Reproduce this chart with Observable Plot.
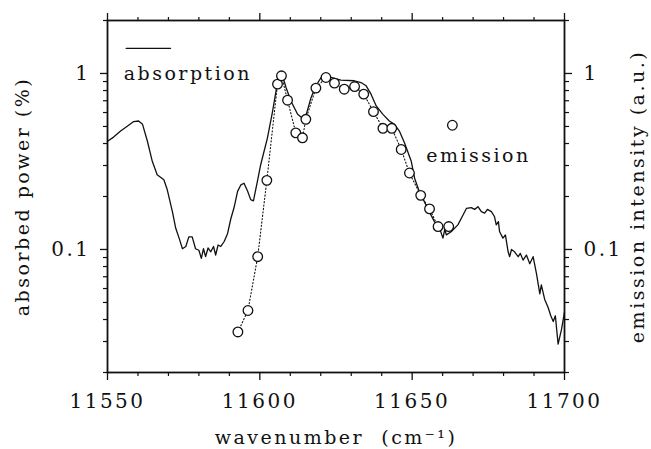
<!DOCTYPE html>
<html>
<head>
<meta charset="utf-8">
<script src="https://cdn.jsdelivr.net/npm/d3@7"></script>
<script src="https://cdn.jsdelivr.net/npm/@observablehq/plot@0.6"></script>
<style>
  html, body { margin: 0; padding: 0; background: #fff; }
</style>
</head>
<body>
<div id="chart"></div>
<script>
// Absorption spectrum (solid line): wavenumber (cm-1) and absorbed power (%)
const absWn = [
  11550.0, 11552.0, 11554.3, 11556.6, 11558.6, 11560.2, 11561.5, 11563.1, 11564.7, 11566.3,
  11568.5, 11569.6, 11571.3, 11572.4, 11573.5, 11574.6, 11575.7, 11576.7, 11577.8, 11578.9,
  11580.0, 11580.8, 11581.5, 11582.2, 11583.0, 11583.9, 11584.8, 11585.5, 11586.3, 11587.2,
  11588.3, 11589.4, 11590.5, 11591.5, 11592.7, 11593.8, 11594.8, 11596.0, 11597.0, 11597.9,
  11599.2, 11600.3, 11602.5, 11604.2, 11605.6, 11606.7, 11607.2, 11608.6, 11610.2, 11612.4,
  11613.8, 11615.1, 11616.8, 11618.4, 11620.1, 11621.7, 11623.4, 11626.6, 11631.0, 11633.2,
  11634.9, 11636.5, 11638.2, 11640.4, 11642.5, 11644.2, 11645.8, 11647.5, 11649.7, 11650.8,
  11652.3, 11654.0, 11655.6, 11657.3, 11659.0, 11660.1, 11660.7, 11661.2, 11662.8, 11665.0,
  11666.7, 11667.8, 11669.4, 11670.5, 11671.6, 11672.7, 11673.8, 11674.7, 11676.0, 11677.0,
  11677.6, 11678.3, 11678.7, 11679.8, 11680.6, 11681.5, 11682.0, 11682.6, 11683.6, 11684.8,
  11685.5, 11686.4, 11687.5, 11688.6, 11689.7, 11690.8, 11691.9, 11692.4, 11693.5, 11694.6,
  11695.5, 11696.3, 11697.0, 11697.9, 11699.0, 11700.0
];
const absVal = [
  0.412, 0.435, 0.471, 0.503, 0.533, 0.537, 0.514, 0.412, 0.317, 0.266,
  0.249, 0.219, 0.164, 0.132, 0.116, 0.101, 0.104, 0.118, 0.118, 0.101,
  0.099, 0.089, 0.101, 0.091, 0.102, 0.097, 0.104, 0.093, 0.106, 0.104,
  0.111, 0.123, 0.150, 0.172, 0.214, 0.233, 0.238, 0.214, 0.192, 0.189,
  0.244, 0.304, 0.431, 0.612, 0.851, 1.000, 1.003, 0.832, 0.698, 0.586,
  0.561, 0.573, 0.729, 0.851, 0.949, 0.983, 0.949, 0.917, 0.909, 0.888,
  0.851, 0.763, 0.654, 0.586, 0.537, 0.514, 0.471, 0.403, 0.317, 0.254,
  0.214, 0.187, 0.164, 0.144, 0.132, 0.116, 0.130, 0.121, 0.126, 0.138,
  0.157, 0.171, 0.173, 0.169, 0.175, 0.164, 0.161, 0.169, 0.164, 0.154,
  0.138, 0.144, 0.126, 0.116, 0.121, 0.097, 0.091, 0.100, 0.097, 0.091,
  0.095, 0.087, 0.093, 0.083, 0.091, 0.073, 0.056, 0.063, 0.052, 0.047,
  0.042, 0.039, 0.042, 0.029, 0.035, 0.044
];

// Emission intensity (circles joined by dotted line)
const emWn = [
  11592.8, 11596.1, 11599.3, 11602.3, 11605.8, 11607.1, 11609.1, 11611.8, 11614.0, 11615.1,
  11618.4, 11621.7, 11624.5, 11627.7, 11631.1, 11634.1, 11637.3, 11640.4, 11643.3, 11646.4,
  11649.1, 11652.8, 11655.7, 11658.5, 11662.0
];
const emVal = [
  0.034, 0.045, 0.091, 0.247, 0.870, 0.970, 0.705, 0.460, 0.431, 0.549,
  0.826, 0.949, 0.881, 0.814, 0.843, 0.763, 0.607, 0.488, 0.488, 0.370,
  0.272, 0.203, 0.170, 0.135, 0.135
];

// Ticks
const xMajor = [11550, 11600, 11650, 11700];
const xMinor = [11560, 11570, 11580, 11590, 11610, 11620, 11630, 11640, 11660, 11670, 11680, 11690];
const yMajor = [0.1, 1];
const yMinor = [0.02, 0.03, 0.04, 0.05, 0.06, 0.07, 0.08, 0.09,
                0.2, 0.3, 0.4, 0.5, 0.6, 0.7, 0.8, 0.9, 2];

// Text
const xTitle = "wavenumber  (cm⁻¹)";
const yLeftTitle = "absorbed power (%)";
const yRightTitle = "emission intensity (a.u.)";
const absLabel = "absorption";
const emLabel = "emission";

// Legend placement (in data units)
const absKey = [{x: 11556.1, y: 1.39}, {x: 11570.7, y: 1.39}];
const absKeyText = {x: 11555.3, y: 1.0};
const emKey = {x: 11663.2, y: 0.508};
const emKeyText = {x: 11654.6, y: 0.339};

const absorption = absWn.map((x, i) => ({x, y: absVal[i]}));
const emission = emWn.map((x, i) => ({x, y: emVal[i]}));

const ink = "#111";
const fmt = d => String(d);

const chart = Plot.plot({
  width: 651,
  height: 449,
  marginLeft: 107,
  marginRight: 87,
  marginTop: 20,
  marginBottom: 77,
  style: {
    fontFamily: "'DejaVu Serif', serif",
    fontSize: "19px",
    letterSpacing: "2.5px",
    background: "#fff",
    color: ink
  },
  x: {domain: [11550, 11700]},
  y: {type: "log", domain: [0.02, 2]},
  marks: [
    // axes
    Plot.axisX({anchor: "bottom", ticks: xMajor, tickSize: 8, tickPadding: 13, tickFormat: fmt, fontSize: 20, label: null, stroke: ink, strokeWidth: 1.3}),
    Plot.axisX({anchor: "bottom", ticks: xMinor, tickSize: 4, fill: "none", label: null, stroke: ink, strokeWidth: 1.2}),
    Plot.axisX({anchor: "top", ticks: xMajor, tickSize: 8, fill: "none", label: null, stroke: ink, strokeWidth: 1.3}),
    Plot.axisX({anchor: "top", ticks: xMinor, tickSize: 4, fill: "none", label: null, stroke: ink, strokeWidth: 1.2}),
    Plot.axisY({anchor: "left", ticks: yMajor, tickSize: 7, tickPadding: 10, tickFormat: fmt, fontSize: 20, label: null, stroke: ink, strokeWidth: 1.3}),
    Plot.axisY({anchor: "left", ticks: yMinor, tickSize: 4, fill: "none", label: null, stroke: ink, strokeWidth: 1.2}),
    Plot.axisY({anchor: "right", ticks: yMajor, tickSize: 7, tickPadding: 12, tickFormat: fmt, fontSize: 20, label: null, stroke: ink, strokeWidth: 1.3}),
    Plot.axisY({anchor: "right", ticks: yMinor, tickSize: 4, fill: "none", label: null, stroke: ink, strokeWidth: 1.2}),
    Plot.frame({stroke: ink, strokeWidth: 1.8}),

    // data
    Plot.line(absorption, {x: "x", y: "y", stroke: ink, strokeWidth: 1.3}),
    Plot.line(emission, {x: "x", y: "y", stroke: ink, strokeWidth: 1.1, strokeDasharray: "1.2,2.2"}),
    Plot.dot(emission, {x: "x", y: "y", r: 4.8, stroke: ink, strokeWidth: 1.3, fill: "#fff"}),

    // legend
    Plot.line(absKey, {x: "x", y: "y", stroke: ink, strokeWidth: 1.2}),
    Plot.text([absKeyText], {x: "x", y: "y", text: () => absLabel, textAnchor: "start", lineAnchor: "middle", fill: ink, fontSize: 19}),
    Plot.dot([emKey], {x: "x", y: "y", r: 4.8, stroke: ink, strokeWidth: 1.3, fill: "#fff"}),
    Plot.text([emKeyText], {x: "x", y: "y", text: () => emLabel, textAnchor: "start", lineAnchor: "middle", fill: ink, fontSize: 19}),

    // axis titles
    Plot.text([xTitle], {frameAnchor: "bottom", dy: 65, text: d => d, textAnchor: "middle", lineAnchor: "middle", fill: ink, fontSize: 19}),
    Plot.text([yLeftTitle], {frameAnchor: "left", dx: -85, rotate: -90, text: d => d, textAnchor: "middle", lineAnchor: "middle", fill: ink, fontSize: 19}),
    Plot.text([yRightTitle], {frameAnchor: "right", dx: 73, rotate: -90, text: d => d, textAnchor: "middle", lineAnchor: "middle", fill: ink, fontSize: 19})
  ]
});

document.getElementById("chart").appendChild(chart);
</script>
</body>
</html>
